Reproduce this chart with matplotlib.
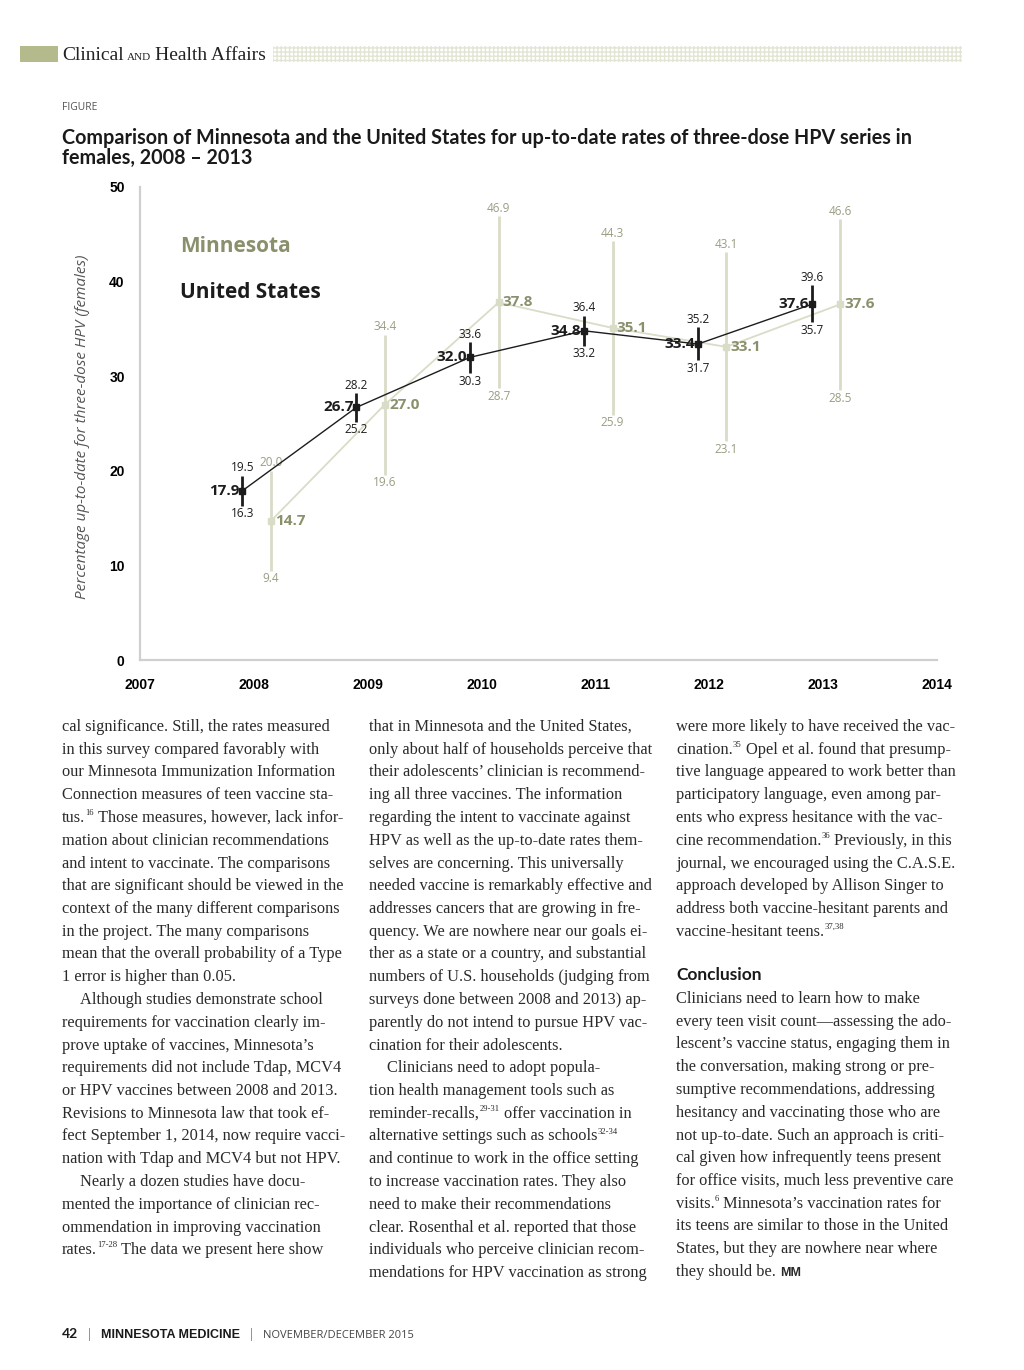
import re
import numpy as np
import matplotlib
matplotlib.use("Agg")
import matplotlib.pyplot as plt
from matplotlib.patches import Rectangle

# ── Data ──────────────────────────────────────────────────────────────────────
years = [2008, 2009, 2010, 2011, 2012, 2013]

us_rate = [17.9, 26.7, 32.0, 34.8, 33.4, 37.6]
us_lo   = [16.3, 25.2, 30.3, 33.2, 31.7, 35.7]
us_hi   = [19.5, 28.2, 33.6, 36.4, 35.2, 39.6]

mn_rate = [14.7, 27.0, 37.8, 35.1, 33.1, 37.6]
mn_lo   = [9.4, 19.6, 28.7, 25.9, 23.1, 28.5]
mn_hi   = [20.0, 34.4, 46.9, 44.3, 43.1, 46.6]

x_ticks = list(range(2007, 2015))
y_ticks = [0, 10, 20, 30, 40, 50]

title_lines = ["Comparison of Minnesota and the United States for up-to-date rates of three-dose HPV series in",
               "females, 2008 \u2013 2013"]
ylabel = "Percentage up-to-date for three-dose HPV (females)"

col1 = [
    "cal significance. Still, the rates measured",
    "in this survey compared favorably with",
    "our Minnesota Immunization Information",
    "Connection measures of teen vaccine sta-",
    "tus.^{16} Those measures, however, lack infor-",
    "mation about clinician recommendations",
    "and intent to vaccinate. The comparisons",
    "that are significant should be viewed in the",
    "context of the many different comparisons",
    "in the project. The many comparisons",
    "mean that the overall probability of a Type",
    "1 error is higher than 0.05.",
    "\tAlthough studies demonstrate school",
    "requirements for vaccination clearly im-",
    "prove uptake of vaccines, Minnesota\u2019s",
    "requirements did not include Tdap, MCV4",
    "or HPV vaccines between 2008 and 2013.",
    "Revisions to Minnesota law that took ef-",
    "fect September 1, 2014, now require vacci-",
    "nation with Tdap and MCV4 but not HPV.",
    "\tNearly a dozen studies have docu-",
    "mented the importance of clinician rec-",
    "ommendation in improving vaccination",
    "rates.^{17-28} The data we present here show",
]
col2 = [
    "that in Minnesota and the United States,",
    "only about half of households perceive that",
    "their adolescents\u2019 clinician is recommend-",
    "ing all three vaccines. The information",
    "regarding the intent to vaccinate against",
    "HPV as well as the up-to-date rates them-",
    "selves are concerning. This universally",
    "needed vaccine is remarkably effective and",
    "addresses cancers that are growing in fre-",
    "quency. We are nowhere near our goals ei-",
    "ther as a state or a country, and substantial",
    "numbers of U.S. households (judging from",
    "surveys done between 2008 and 2013) ap-",
    "parently do not intend to pursue HPV vac-",
    "cination for their adolescents.",
    "\tClinicians need to adopt popula-",
    "tion health management tools such as",
    "reminder-recalls,^{29-31} offer vaccination in",
    "alternative settings such as schools^{32-34}",
    "and continue to work in the office setting",
    "to increase vaccination rates. They also",
    "need to make their recommendations",
    "clear. Rosenthal et al. reported that those",
    "individuals who perceive clinician recom-",
    "mendations for HPV vaccination as strong",
]
col3a = [
    "were more likely to have received the vac-",
    "cination.^{35} Opel et al. found that presump-",
    "tive language appeared to work better than",
    "participatory language, even among par-",
    "ents who express hesitance with the vac-",
    "cine recommendation.^{36} Previously, in this",
    "journal, we encouraged using the C.A.S.E.",
    "approach developed by Allison Singer to",
    "address both vaccine-hesitant parents and",
    "vaccine-hesitant teens.^{37,38}",
]
col3b = [
    "Clinicians need to learn how to make",
    "every teen visit count\u2014assessing the ado-",
    "lescent\u2019s vaccine status, engaging them in",
    "the conversation, making strong or pre-",
    "sumptive recommendations, addressing",
    "hesitancy and vaccinating those who are",
    "not up-to-date. Such an approach is criti-",
    "cal given how infrequently teens present",
    "for office visits, much less preventive care",
    "visits.^{6} Minnesota\u2019s vaccination rates for",
    "its teens are similar to those in the United",
    "States, but they are nowhere near where",
    "they should be. ~MM~",
]

# ── Style ─────────────────────────────────────────────────────────────────────
US_C      = "#1c1c1c"
MN_LINE   = "#d9dcc6"
MN_TXT    = "#9a9d82"
MN_BOLD   = "#8b906c"
SPINE_C   = "#cfcfcf"
BODY_C    = "#2a2a2a"
SERIF     = ["Liberation Serif", "DejaVu Serif"]
SANS      = ["Open Sans", "DejaVu Sans"]
BOLDSANS  = ["Lato", "DejaVu Sans"]
NARROW    = ["Liberation Sans", "DejaVu Sans"]

W, H = 1024, 1370
fig = plt.figure(figsize=(W / 100, H / 100), dpi=100)
renderer = fig.canvas.get_renderer()

def fx(x): return x / W
def fy(y): return 1 - y / H

def put(x, y, s, **kw):
    return fig.text(fx(x), fy(y), s, **kw)

def tw(t):
    return t.get_window_extent(renderer=renderer).width

# ── Header ────────────────────────────────────────────────────────────────────
fig.patches.append(Rectangle((fx(20), fy(62)), fx(58) - fx(20), fy(46) - fy(62),
                             transform=fig.transFigure, facecolor="#b4ba8b", lw=0))
fig.patches.append(Rectangle((fx(273), fy(62)), fx(962) - fx(273), fy(46) - fy(62),
                             transform=fig.transFigure, facecolor="white",
                             edgecolor="#e3e5d4", hatch="++++", lw=0))
cx = 62
for s, fs in [("Clinical", 14), ("AND", 8), ("Health Affairs", 14)]:
    t = put(cx, 60, s, fontsize=fs, family=SERIF, color="#222222", va="baseline")
    cx += tw(t) + 3.5

put(62, 108, "FIGURE", fontsize=7.5, family=SANS, color="#555555", va="center")
for i, line in enumerate(title_lines):
    put(62, 138 + i * 20, line, fontsize=14.2, family=BOLDSANS, weight="bold",
        color="#1a1a1a", va="center")

# ── Chart ─────────────────────────────────────────────────────────────────────
ax = fig.add_axes([fx(140), fy(660), fx(937) - fx(140), fy(187) - fy(660)])
ax.set_xlim(2007, 2014)
ax.set_ylim(0, 50)
for side in ["top", "right"]:
    ax.spines[side].set_visible(False)
for side in ["left", "bottom"]:
    ax.spines[side].set_color(SPINE_C)
    ax.spines[side].set_linewidth(1.6)
ax.set_xticks(x_ticks)
ax.set_yticks(y_ticks)
ax.set_xticklabels([str(v) for v in x_ticks], family=NARROW, weight="bold", fontsize=10)
ax.set_yticklabels([str(v) for v in y_ticks], family=NARROW, weight="bold", fontsize=10)
ax.tick_params(length=0, pad=13)
ax.tick_params(axis="y", pad=11)

x_us = np.array(years) - 0.1
x_mn = np.array(years) + 0.15

# Minnesota (pale) drawn first
ax.plot(x_mn, mn_rate, color=MN_LINE, lw=1.3, zorder=2)
ax.vlines(x_mn, mn_lo, mn_hi, color=MN_LINE, lw=2, zorder=2)
ax.plot(x_mn, mn_rate, "s", color=MN_LINE, ms=5, zorder=3)

# United States
ax.plot(x_us, us_rate, color=US_C, lw=1, zorder=4)
ax.vlines(x_us, us_lo, us_hi, color=US_C, lw=2, zorder=4)
ax.plot(x_us, us_rate, "s", color=US_C, ms=4.5, zorder=5)

for x, v, lo, hi in zip(x_us, us_rate, us_lo, us_hi):
    ax.annotate(f"{v:.1f}", (x, v), xytext=(-2, 0), textcoords="offset points",
                ha="right", va="center", fontsize=11, weight="bold", family=SANS, color=US_C)
    ax.annotate(f"{hi:.1f}", (x, hi), xytext=(0, 1), textcoords="offset points",
                ha="center", va="bottom", fontsize=8.5, family=SANS, color=US_C)
    ax.annotate(f"{lo:.1f}", (x, lo), xytext=(0, -1), textcoords="offset points",
                ha="center", va="top", fontsize=8.5, family=SANS, color=US_C)

for x, v, lo, hi in zip(x_mn, mn_rate, mn_lo, mn_hi):
    ax.annotate(f"{v:.1f}", (x, v), xytext=(3, 0), textcoords="offset points",
                ha="left", va="center", fontsize=11, weight="bold", family=SANS, color=MN_BOLD)
    ax.annotate(f"{hi:.1f}", (x, hi), xytext=(0, 1), textcoords="offset points",
                ha="center", va="bottom", fontsize=8.5, family=SANS, color=MN_TXT)
    ax.annotate(f"{lo:.1f}", (x, lo), xytext=(0, -1), textcoords="offset points",
                ha="center", va="top", fontsize=8.5, family=SANS, color=MN_TXT)

put(180, 246, "Minnesota", fontsize=15, weight="bold", family=SANS, color=MN_BOLD, va="center")
put(180, 292, "United States", fontsize=15, weight="bold", family=SANS, color=US_C, va="center")
put(83, 427, ylabel, fontsize=11, style="italic", family=SANS, color="#555555",
    rotation=90, ha="center", va="center")

# ── Body text ─────────────────────────────────────────────────────────────────
BODY_FS = 11.8
SPACE = BODY_FS * 100 / 72 * 0.25
LEAD = 22.75

def body_line(x, y, line):
    if line.startswith("\t"):
        x += 18
        line = line[1:]
    base = y + 5
    cx = x
    for p in re.split(r"(\^\{[^}]*\}|~MM~)", line):
        if not p:
            continue
        if p.startswith("^{"):
            t = put(cx, base - 7, p[2:-1], fontsize=6.2, family=SERIF, color=BODY_C, va="baseline")
            cx += tw(t)
        elif p == "~MM~":
            put(cx, base, "MM", fontsize=9, family=NARROW, weight="bold", color=BODY_C, va="baseline")
        else:
            if p.startswith(" "):
                cx += SPACE
            t = put(cx, base, p.strip(), fontsize=BODY_FS, family=SERIF, color=BODY_C, va="baseline")
            cx += tw(t)
            if p.endswith(" "):
                cx += SPACE

for i, line in enumerate(col1):
    body_line(62, 726 + i * LEAD, line)
for i, line in enumerate(col2):
    body_line(369, 726 + i * LEAD, line)
for i, line in enumerate(col3a):
    body_line(676, 726 + i * LEAD, line)
put(676, 975, "Conclusion", fontsize=12.5, weight="bold", family=BOLDSANS, color="#1a1a1a", va="center")
for i, line in enumerate(col3b):
    body_line(676, 998 + i * LEAD, line)

# ── Footer ────────────────────────────────────────────────────────────────────
cx = 62
for s, kw in [("42", dict(family=BOLDSANS, weight="bold", fontsize=10, color="#1a1a1a")),
              ("|", dict(family=SANS, fontsize=9, color="#888888")),
              ("MINNESOTA MEDICINE", dict(family=NARROW, weight="bold", fontsize=9, color="#1a1a1a")),
              ("|", dict(family=SANS, fontsize=9, color="#888888")),
              ("NOVEMBER/DECEMBER 2015", dict(family=SANS, fontsize=8, color="#444444"))]:
    t = put(cx, 1338, s, va="baseline", **kw)
    cx += tw(t) + 8

fig.savefig("out.png", dpi=100)
